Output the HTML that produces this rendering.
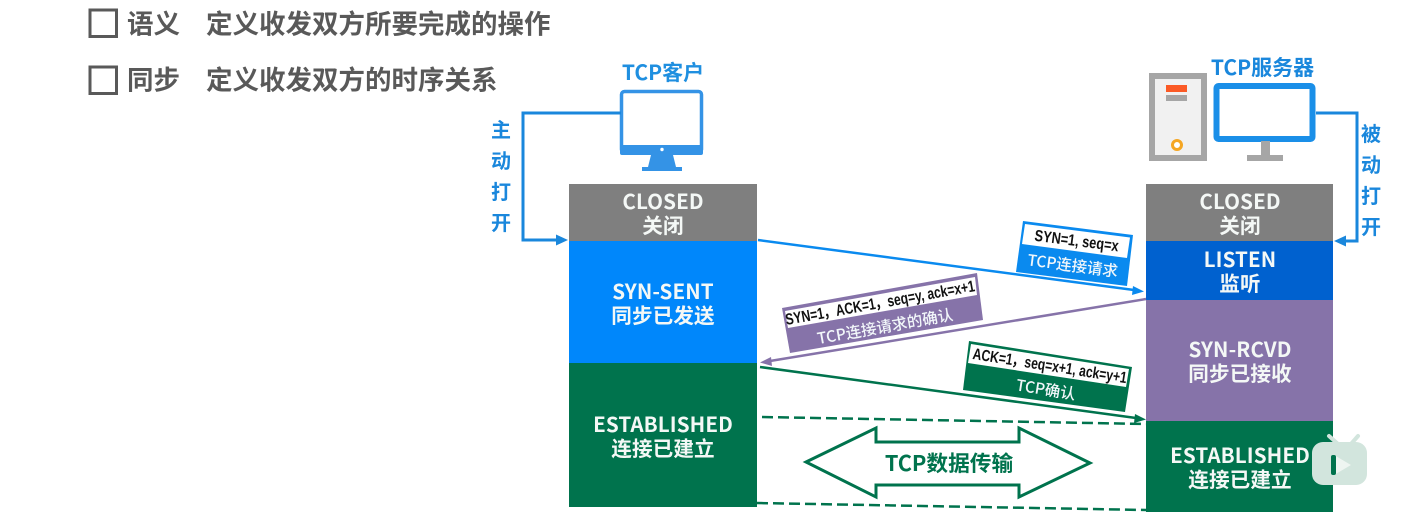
<!DOCTYPE html>
<html lang="zh"><head><meta charset="utf-8"><style>
html,body{margin:0;padding:0;background:#fff;width:1401px;height:526px;overflow:hidden}
svg{display:block;filter:blur(.35px)}
text{font-family:"Noto Sans CJK SC","Liberation Sans",sans-serif}
.w{fill:#f4f8f6;font-size:20.600px;font-weight:700;text-anchor:middle;letter-spacing:.1px}
.h{fill:#595959;font-size:26.500px;font-weight:700}
.b{fill:#1a87dc;font-size:20px;font-weight:700;text-anchor:middle}
.k{font-family:"Liberation Sans",sans-serif;font-size:16px;font-weight:700;fill:#111;text-anchor:middle}
.l{fill:#f2f7fa;font-size:15.500px;font-weight:500;text-anchor:middle}
</style></head><body>
<svg width="1401" height="526" viewBox="0 0 1401 526" xmlns="http://www.w3.org/2000/svg">
<rect x="90" y="10" width="26.500" height="26.500" fill="none" stroke="#595959" stroke-width="3"/>
<rect x="90" y="67" width="26.500" height="26.500" fill="none" stroke="#595959" stroke-width="3"/>
<text class="h" x="127" y="33.500">语义</text>
<text class="h" x="206" y="33.500">定义收发双方所要完成的操作</text>
<text class="h" x="127" y="89.500">同步</text>
<text class="h" x="206" y="89.500">定义收发双方的时序关系</text>

<!-- client -->
<text x="663" y="80" text-anchor="middle" font-size="21" font-weight="700" fill="#1f8fe0">TCP客户</text>
<rect x="621.500" y="91.500" width="80" height="61" rx="3" fill="#fff" stroke="#3493e6" stroke-width="3.500"/>
<rect x="620" y="145" width="83" height="10" rx="2" fill="#3493e6"/>
<circle cx="662" cy="149.500" r="1.700" fill="#fff"/>
<polygon points="651,155 673,155 676,167 648,167" fill="#3493e6"/>
<rect x="642" y="167" width="40" height="4" fill="#3493e6"/>
<path d="M621 113H523V240H556" fill="none" stroke="#1a87dc" stroke-width="3"/>
<polygon points="568,240 556,234.500 556,245.500" fill="#1a87dc"/>
<text class="b" x="501" y="137">主</text><text class="b" x="501" y="168">动</text><text class="b" x="501" y="199">打</text><text class="b" x="501" y="230">开</text>

<!-- server -->
<rect x="1152" y="76" width="52" height="82" fill="#f1f1f1" stroke="#a6a6a6" stroke-width="6"/>
<rect x="1166" y="85" width="21" height="7" fill="#fb5a26"/>
<rect x="1166" y="95" width="21" height="6" fill="#a6a6a6"/>
<circle cx="1177" cy="145" r="4.500" fill="#fff" stroke="#f5a623" stroke-width="3"/>
<text x="1262.500" y="75" text-anchor="middle" font-size="21" font-weight="700" fill="#1a87dc">TCP服务器</text>
<rect x="1216.500" y="86" width="96" height="53" rx="2" fill="#fff" stroke="#1a8fe8" stroke-width="6"/>
<rect x="1261" y="141" width="9" height="16" fill="#a6a6a6"/>
<rect x="1247" y="155" width="36" height="6" fill="#a6a6a6"/>
<path d="M1316 113H1357V241H1346" fill="none" stroke="#1a87dc" stroke-width="3"/>
<polygon points="1334,241 1346,235.500 1346,246.500" fill="#1a87dc"/>
<text class="b" x="1371" y="141">被</text><text class="b" x="1371" y="172">动</text><text class="b" x="1371" y="203">打</text><text class="b" x="1371" y="234">开</text>

<!-- left column -->
<rect x="569" y="184" width="188" height="57" fill="#7f7f7f"/>
<rect x="569" y="241" width="188" height="122" fill="#0087fb"/>
<rect x="569" y="363" width="188" height="144" fill="#00734d"/>
<text class="w" x="663" y="209">CLOSED</text><text class="w" x="663" y="233">关闭</text>
<text class="w" x="663" y="299">SYN-SENT</text><text class="w" x="663" y="323">同步已发送</text>
<text class="w" x="663" y="432">ESTABLISHED</text><text class="w" x="663" y="456">连接已建立</text>

<!-- right column -->
<rect x="1146" y="184" width="187" height="57" fill="#7f7f7f"/>
<rect x="1146" y="241" width="187" height="59" fill="#0061cf"/>
<rect x="1146" y="300" width="187" height="121" fill="#8673a9"/>
<rect x="1146" y="421" width="187" height="91" fill="#00734d"/>
<text class="w" x="1240" y="209">CLOSED</text><text class="w" x="1240" y="233">关闭</text>
<text class="w" x="1240" y="267">LISTEN</text><text class="w" x="1240" y="291">监听</text>
<text class="w" x="1240" y="357">SYN-RCVD</text><text class="w" x="1240" y="381">同步已接收</text>
<text class="w" x="1240" y="463">ESTABLISHED</text><text class="w" x="1240" y="487">连接已建立</text>

<!-- arrows -->
<line x1="758" y1="240" x2="1134" y2="290" stroke="#0a8aef" stroke-width="2.500"/>
<polygon points="1144,291.500 1133,286 1132,295" fill="#0a8aef"/>
<line x1="1146" y1="299" x2="770" y2="361" stroke="#8673a9" stroke-width="2.500"/>
<polygon points="760,362.500 771,357 772,366" fill="#8673a9"/>
<line x1="760" y1="367" x2="1136" y2="418" stroke="#00734d" stroke-width="2.500"/>
<polygon points="1146,419.500 1135,414 1134,423" fill="#00734d"/>
<line x1="762" y1="417" x2="1146" y2="424" stroke="#00734d" stroke-width="2.500" stroke-dasharray="11 5"/>
<line x1="757" y1="503" x2="1146" y2="510" stroke="#00734d" stroke-width="2.500" stroke-dasharray="11 5"/>

<!-- label 1 -->
<polygon points="1023,221 1133,235 1127,286 1016,272" fill="#0a8aef"/>
<polygon points="1025,224 1130,237.500 1127,258 1022,244" fill="#fff"/>
<text class="k" transform="translate(1076,246) rotate(7.300) scale(.8,1)">SYN=1, seq=x</text>
<text class="l" transform="translate(1072,271) rotate(7.300)">TCP连接请求</text>

<!-- label 2 -->
<polygon points="782,308 977,273 983,320 790,353" fill="#8673a9"/>
<polygon points="785,311 975,277 977,295 788,328" fill="#fff"/>
<text class="k" transform="translate(881,308) rotate(-10.200) scale(.76,1)">SYN=1，ACK=1，seq=y, ack=x+1</text>
<text class="l" transform="translate(886,332) rotate(-10.200)">TCP连接请求的确认</text>

<!-- label 3 -->
<polygon points="969,341 1132,367 1125,412 963,390" fill="#00734d"/>
<polygon points="971,344 1129,369 1126,387 968,363" fill="#fff"/>
<text class="k" transform="translate(1049,371) rotate(9) scale(.76,1)">ACK=1，seq=x+1, ack=y+1</text>
<text class="l" transform="translate(1045,395) rotate(9)">TCP确认</text>

<!-- big double arrow -->
<polygon points="806,462 876,428 876,442 1019,442 1019,428 1090,463 1019,497 1019,485 876,485 876,497" fill="#fff" stroke="#00734d" stroke-width="3"/>
<text x="949" y="471" text-anchor="middle" font-size="21.700" font-weight="700" fill="#00734d">TCP数据传输</text>

<!-- watermark -->
<g>
<path d="M1329 436L1338 444M1351 444L1358 436" stroke="#d2e5dd" stroke-width="4" stroke-linecap="round"/>
<rect x="1312" y="442" width="55" height="43" rx="11" fill="#d2e5dd"/>
<polygon points="1334,455 1334,475 1351,465" fill="#eef5f1"/>
<rect x="1331" y="455" width="5" height="20" rx="2" fill="#00734d"/>
</g>
</svg>
</body></html>
